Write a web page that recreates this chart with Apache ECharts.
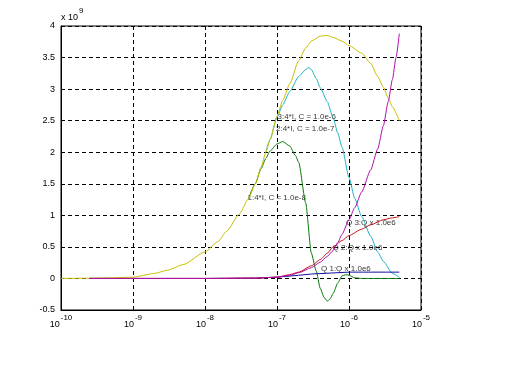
<!DOCTYPE html>
<html><head><meta charset="utf-8">
<script src="https://cdn.jsdelivr.net/npm/echarts@6/dist/echarts.min.js"></script>
<style>html,body{margin:0;padding:0;background:#fff}#c{width:508px;height:367px}</style>
</head><body><div id="c"></div>
<script>
// ---- data (x in seconds, y in units of 1e9) ----
const xTickExponents = [-10, -9, -8, -7, -6, -5];
const yTicks = [-0.5, 0, 0.5, 1, 1.5, 2, 2.5, 3, 3.5, 4];

const curveI3 = [[1e-10,0],[2e-10,0.003],[5e-10,0.01],[1e-9,0.02],[2e-9,0.08],[3e-9,0.13],[5e-9,0.22],[1e-8,0.42],[1.5e-8,0.58],[2e-8,0.75],[3e-8,1.02],[4e-8,1.26],[5e-8,1.5],[6e-8,1.76],[7e-8,2.0],[8e-8,2.2],[1e-7,2.57],[1.2e-7,2.82],[1.5e-7,3.08],[2e-7,3.45],[2.5e-7,3.65],[3e-7,3.76],[4e-7,3.84],[5e-7,3.85],[6e-7,3.82],[8e-7,3.76],[1e-6,3.69],[1.5e-6,3.57],[2e-6,3.41],[2.5e-6,3.2],[3e-6,3.03],[3.5e-6,2.86],[4e-6,2.72],[5e-6,2.5]];
const curveI2 = [[7e-8,2.0],[8e-8,2.2],[1e-7,2.55],[1.2e-7,2.75],[1.5e-7,2.96],[2e-7,3.2],[2.5e-7,3.31],[2.75e-7,3.34],[3e-7,3.31],[3.5e-7,3.17],[4e-7,3.02],[5e-7,2.8],[6e-7,2.55],[7e-7,2.3],[8e-7,2.08],[1e-6,1.6],[1.2e-6,1.27],[1.5e-6,0.98],[2e-6,0.67],[2.5e-6,0.42],[3e-6,0.27],[4e-6,0.08],[5e-6,0.02]];
const curveI1 = [[4e-8,1.26],[5e-8,1.5],[6e-8,1.74],[7e-8,1.9],[8e-8,2.02],[1e-7,2.13],[1.2e-7,2.17],[1.5e-7,2.1],[1.8e-7,1.95],[2e-7,1.84],[2.5e-7,1.2],[3e-7,0.4],[3.5e-7,0.12],[4e-7,-0.16],[4.5e-7,-0.3],[5e-7,-0.36],[5.5e-7,-0.32],[6e-7,-0.24],[7e-7,-0.07],[8e-7,0.04],[9e-7,0.06],[1e-6,0.05],[1.2e-6,0.01],[1.5e-6,0],[2e-6,0],[3e-6,0],[5e-6,0]];
const curveQ1 = [[2.5e-10,0],[1e-8,0],[5e-8,0.005],[1e-7,0.02],[2e-7,0.05],[3e-7,0.07],[3.1e-7,0.1],[1e-6,0.1],[5e-6,0.1]];
const curveQ2 = [[2.5e-10,0],[1e-8,0],[5e-8,0.005],[1e-7,0.02],[1.5e-7,0.06],[2e-7,0.1],[3e-7,0.2],[4e-7,0.3],[5e-7,0.4],[6e-7,0.5],[8e-7,0.6],[1e-6,0.68],[1.5e-6,0.78],[2e-6,0.85],[3e-6,0.93],[4e-6,0.96],[5e-6,0.98]];
const curveQ3 = [[2.5e-10,0],[1e-9,0],[1e-8,0],[5e-8,0.005],[1e-7,0.02],[1.5e-7,0.05],[2e-7,0.09],[3e-7,0.17],[4e-7,0.26],[5e-7,0.35],[6e-7,0.44],[7e-7,0.57],[8e-7,0.7],[1e-6,0.93],[1.2e-6,1.12],[1.5e-6,1.37],[2e-6,1.72],[2.5e-6,2.05],[3e-6,2.42],[3.5e-6,2.8],[4e-6,3.15],[4.5e-6,3.5],[5e-6,3.88]];

const annotationTexts = ['3:4*I, C = 1.0e-6','2:4*I, C = 1.0e-7','1:4*I, C = 1.0e-8','Q 3:Q x 1.0e6','Q 2:Q x 1.0e6','Q 1:Q x 1.0e6'];
const annotationX = [1e-7, 9.53e-8, 3.83e-8, 8.93e-7, 5.81e-7, 4.02e-7];
const annotationY = [2.556, 2.37, 1.284, 0.88, 0.49, 0.158];

const FONT = '"Liberation Sans", Arial, sans-serif';
const chart = echarts.init(document.getElementById('c'), null, {renderer: 'canvas'});

function line(data, color, smooth) {
  return {type: 'line', data: data, symbol: 'none', showSymbol: false, smooth: smooth, smoothMonotone: 'x',
    lineStyle: {width: 1, color: color}, itemStyle: {color: color}, silent: true};
}

const axisTickStyle = {show: true, inside: true, length: 4, lineStyle: {color: '#000'}};
const splitStyle = {show: true, lineStyle: {color: '#000', type: [4, 3], width: 1}};
const supRich = {
  b: {fontSize: 9, fontFamily: FONT, color: '#000', padding: [7, 0, 0, 0]},
  s: {fontSize: 8, fontFamily: FONT, color: '#000', padding: [0, 0, 6, 1]}
};

chart.setOption({
  animation: false,
  backgroundColor: '#fff',
  grid: {left: 61, right: 87, top: 26, bottom: 57, show: true, borderColor: '#000', borderWidth: 1},
  xAxis: {
    type: 'log', logBase: 10,
    min: Math.pow(10, xTickExponents[0]), max: Math.pow(10, xTickExponents[xTickExponents.length - 1]),
    axisLine: {show: true, onZero: false, lineStyle: {color: '#000'}},
    axisTick: axisTickStyle,
    minorTick: {show: false},
    splitLine: splitStyle,
    axisLabel: {
      margin: 3, color: '#000', fontFamily: FONT,
      formatter: function (v) { return '{b|10}{s|' + Math.round(Math.log10(v)) + '}'; },
      rich: supRich
    }
  },
  yAxis: {
    type: 'value', min: yTicks[0], max: yTicks[yTicks.length - 1], interval: 0.5,
    axisLine: {show: true, lineStyle: {color: '#000'}},
    axisTick: axisTickStyle,
    splitLine: splitStyle,
    axisLabel: {margin: 6, color: '#000', fontSize: 9, fontFamily: FONT},
    name: '{b|x 10}{s|9}', nameLocation: 'end', nameGap: 4,
    nameTextStyle: {align: 'left', verticalAlign: 'bottom', rich: supRich}
  },
  series: [
    line(curveI1, '#0b7a0b', 0.2),
    line(curveI2, '#1db4c6', 0.2),
    line(curveI3, '#c9bf00', 0.2),
    line(curveQ1, '#1010a0', false),
    line(curveQ2, '#c01010', 0.2),
    line(curveQ3, '#b010b0', 0.2),
    {
      type: 'scatter', silent: true, symbolSize: 1,
      itemStyle: {color: 'rgba(0,0,0,0)'},
      data: annotationTexts.map(function (t, i) { return {name: t, value: [annotationX[i], annotationY[i]]}; }),
      label: {show: true, position: 'right', distance: 0, formatter: '{b}', fontSize: 8, fontFamily: FONT, color: '#000'}
    }
  ]
});
</script></body></html>
